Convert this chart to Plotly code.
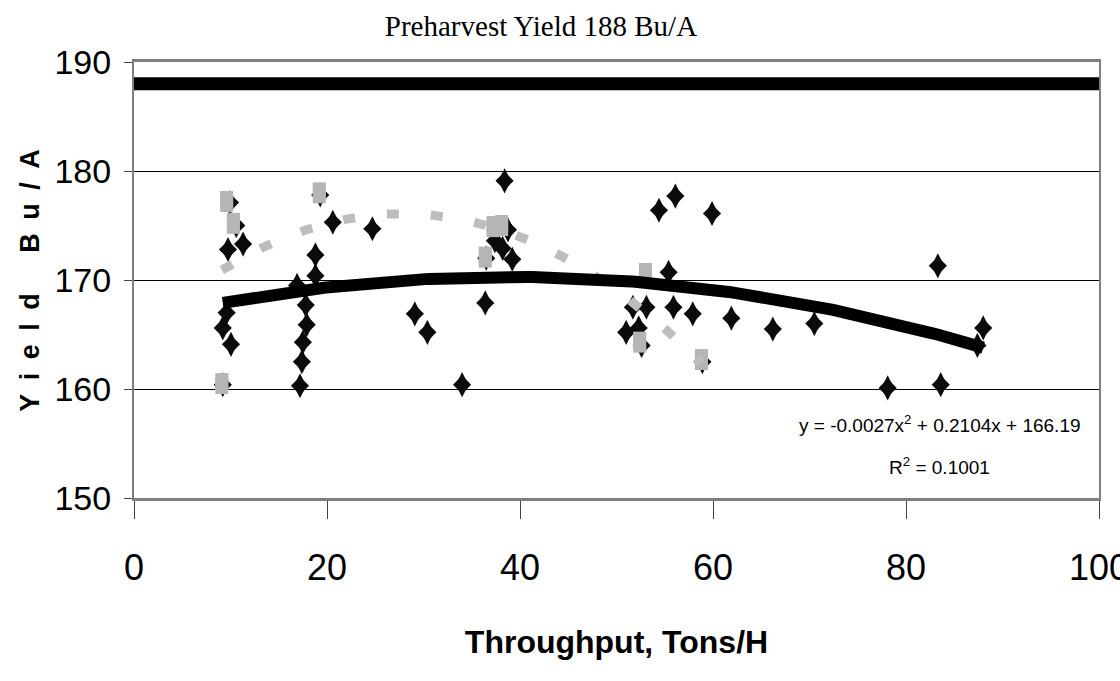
import numpy as np
import plotly.graph_objects as go

# Combine throughput (tons/h) vs. yield (bu/A)
diamond_x = [9.2, 9.2, 10.05, 9.6, 9.74, 11.3, 9.95, 10.6,
             17.2, 17.4, 17.5, 17.9, 17.8, 16.9, 18.8, 18.8, 20.6, 19.3, 24.7,
             29.1, 30.4, 34.0, 36.4, 38.4, 37.4, 38.2, 39.2, 38.75, 36.5,
             54.4, 56.1, 59.9, 55.4, 51.7, 53.1, 55.9, 57.9, 61.9,
             51.0, 52.3, 52.6, 58.9, 66.2, 70.5, 78.1, 83.6, 83.3, 88.0, 87.4]
diamond_y = [160.4, 165.6, 164.1, 167.0, 172.8, 173.3, 177.1, 175.0,
             160.3, 162.5, 164.3, 165.9, 167.7, 169.5, 170.4, 172.3, 175.3, 177.8, 174.7,
             166.9, 165.2, 160.4, 167.9, 179.1, 173.6, 172.9, 171.9, 174.6, 172.0,
             176.4, 177.7, 176.1, 170.7, 167.5, 167.5, 167.5, 166.9, 166.5,
             165.2, 165.6, 164.0, 162.5, 165.5, 166.0, 160.1, 160.4, 171.3, 165.6, 164.0]

square_x = [9.6, 10.3, 9.1, 19.2, 36.4, 37.2, 38.1, 53.0, 52.4, 58.8]
square_y = [177.2, 175.2, 160.5, 178.0, 172.1, 174.9, 175.0, 170.6, 164.3, 162.7]

# Polynomial trendlines (c0, c1, c2)
trend_black = [166.19, 0.2104, -0.0027]
trend_grey = [164.73, 0.812, -0.0145]
r_squared = 0.1001

preharvest_yield = 188

x_ticks = [0, 20, 40, 60, 80, 100]
y_ticks = [150, 160, 170, 180, 190]

SANS = "Liberation Sans, Arial, sans-serif"
GREY = "#b5b5b5"


def poly(c, x):
    return c[0] + c[1] * x + c[2] * x ** 2


xb = np.linspace(min(diamond_x), max(diamond_x), 200)
xg = np.linspace(min(square_x), max(square_x), 200)

fig = go.Figure()

# diamonds: union of a square-ish and a tall diamond gives a taller rhombus
for sym, size in (("diamond", 14), ("diamond-tall", 18)):
    fig.add_trace(go.Scatter(
        x=diamond_x, y=diamond_y, mode="markers",
        marker=dict(symbol=sym, size=size, color="#0b0b0b", line=dict(width=0)),
        showlegend=False, hoverinfo="x+y"))

# grey markers: a square plus a vertical bar give an upright rectangle
fig.add_trace(go.Scatter(
    x=square_x, y=square_y, mode="markers",
    marker=dict(symbol="square", size=13, color=GREY, line=dict(width=0)),
    showlegend=False))
fig.add_trace(go.Scatter(
    x=square_x, y=square_y, mode="markers",
    marker=dict(symbol="line-ns", size=15, color=GREY,
                line=dict(width=13, color=GREY)),
    showlegend=False, hoverinfo="skip"))

fig.add_trace(go.Scatter(
    x=xg, y=poly(trend_grey, xg), mode="lines",
    line=dict(color="#bdbdbd", width=9, dash="12px,32px"),
    showlegend=False, hoverinfo="skip"))

fig.add_trace(go.Scatter(
    x=xb, y=poly(trend_black, xb), mode="lines",
    line=dict(color="#000000", width=12),
    showlegend=False, hoverinfo="skip"))

fig.add_trace(go.Scatter(
    x=[x_ticks[0], x_ticks[-1]], y=[preharvest_yield, preharvest_yield], mode="lines",
    line=dict(color="#000000", width=13),
    showlegend=False, hoverinfo="skip"))

eq = (f"y = {trend_black[2]:.4f}x<sup>2</sup> + {trend_black[1]:.4f}x + {trend_black[0]:.2f}")
fig.add_annotation(x=0.835, y=0.17, xref="paper", yref="paper", text=eq,
                   xanchor="center", yanchor="middle",
                   showarrow=False, font=dict(family=SANS, size=19, color="#000"))
fig.add_annotation(x=0.835, y=0.073, xref="paper", yref="paper",
                   text=f"R<sup>2</sup> = {r_squared:.4f}",
                   xanchor="center", yanchor="middle",
                   showarrow=False, font=dict(family=SANS, size=19, color="#000"))

fig.add_annotation(x=-0.108, y=0.5, xref="paper", yref="paper",
                   text="Y\u2002i\u2002e\u2002l\u2002d\u2003\u2002B\u2002u\u2002/\u2002A",
                   textangle=-90, showarrow=False, xanchor="center", yanchor="middle",
                   font=dict(family=SANS, size=27, color="#000", weight="bold"))

fig.update_layout(
    width=1120, height=681,
    margin=dict(l=134, r=21, t=62, b=183, autoexpand=False),
    paper_bgcolor="white", plot_bgcolor="white",
    title=dict(text="Preharvest Yield 188 Bu/A", x=0.483, xanchor="center",
               y=0.962, yanchor="middle",
               font=dict(family="Liberation Serif, Times New Roman, serif", size=29,
                         color="#000")),
    xaxis=dict(range=[0, 100], tickvals=x_ticks, ticks="outside", ticklen=18,
               tickcolor="#444", tickwidth=1, automargin=False,
               showgrid=False, zeroline=False,
               showline=True, linecolor="#7f7f7f", linewidth=3, mirror=True,
               tickfont=dict(family=SANS, size=36, color="#000"),
               ticklabelstandoff=18, ticklabeloverflow="allow",
               title=dict(text="<b>Throughput, Tons/H</b>", standoff=44,
                          font=dict(family=SANS, size=32, color="#000"))),
    yaxis=dict(range=[150, 190], tickvals=y_ticks, ticks="outside", ticklen=8,
               tickcolor="#444", tickwidth=1, automargin=False,
               showgrid=True, gridcolor="#000", gridwidth=1, zeroline=False,
               showline=True, linecolor="#7f7f7f", linewidth=2, mirror=True,
               tickfont=dict(family=SANS, size=34, color="#000"),
               ticklabelstandoff=6),
)

fig.write_html("out.html")
